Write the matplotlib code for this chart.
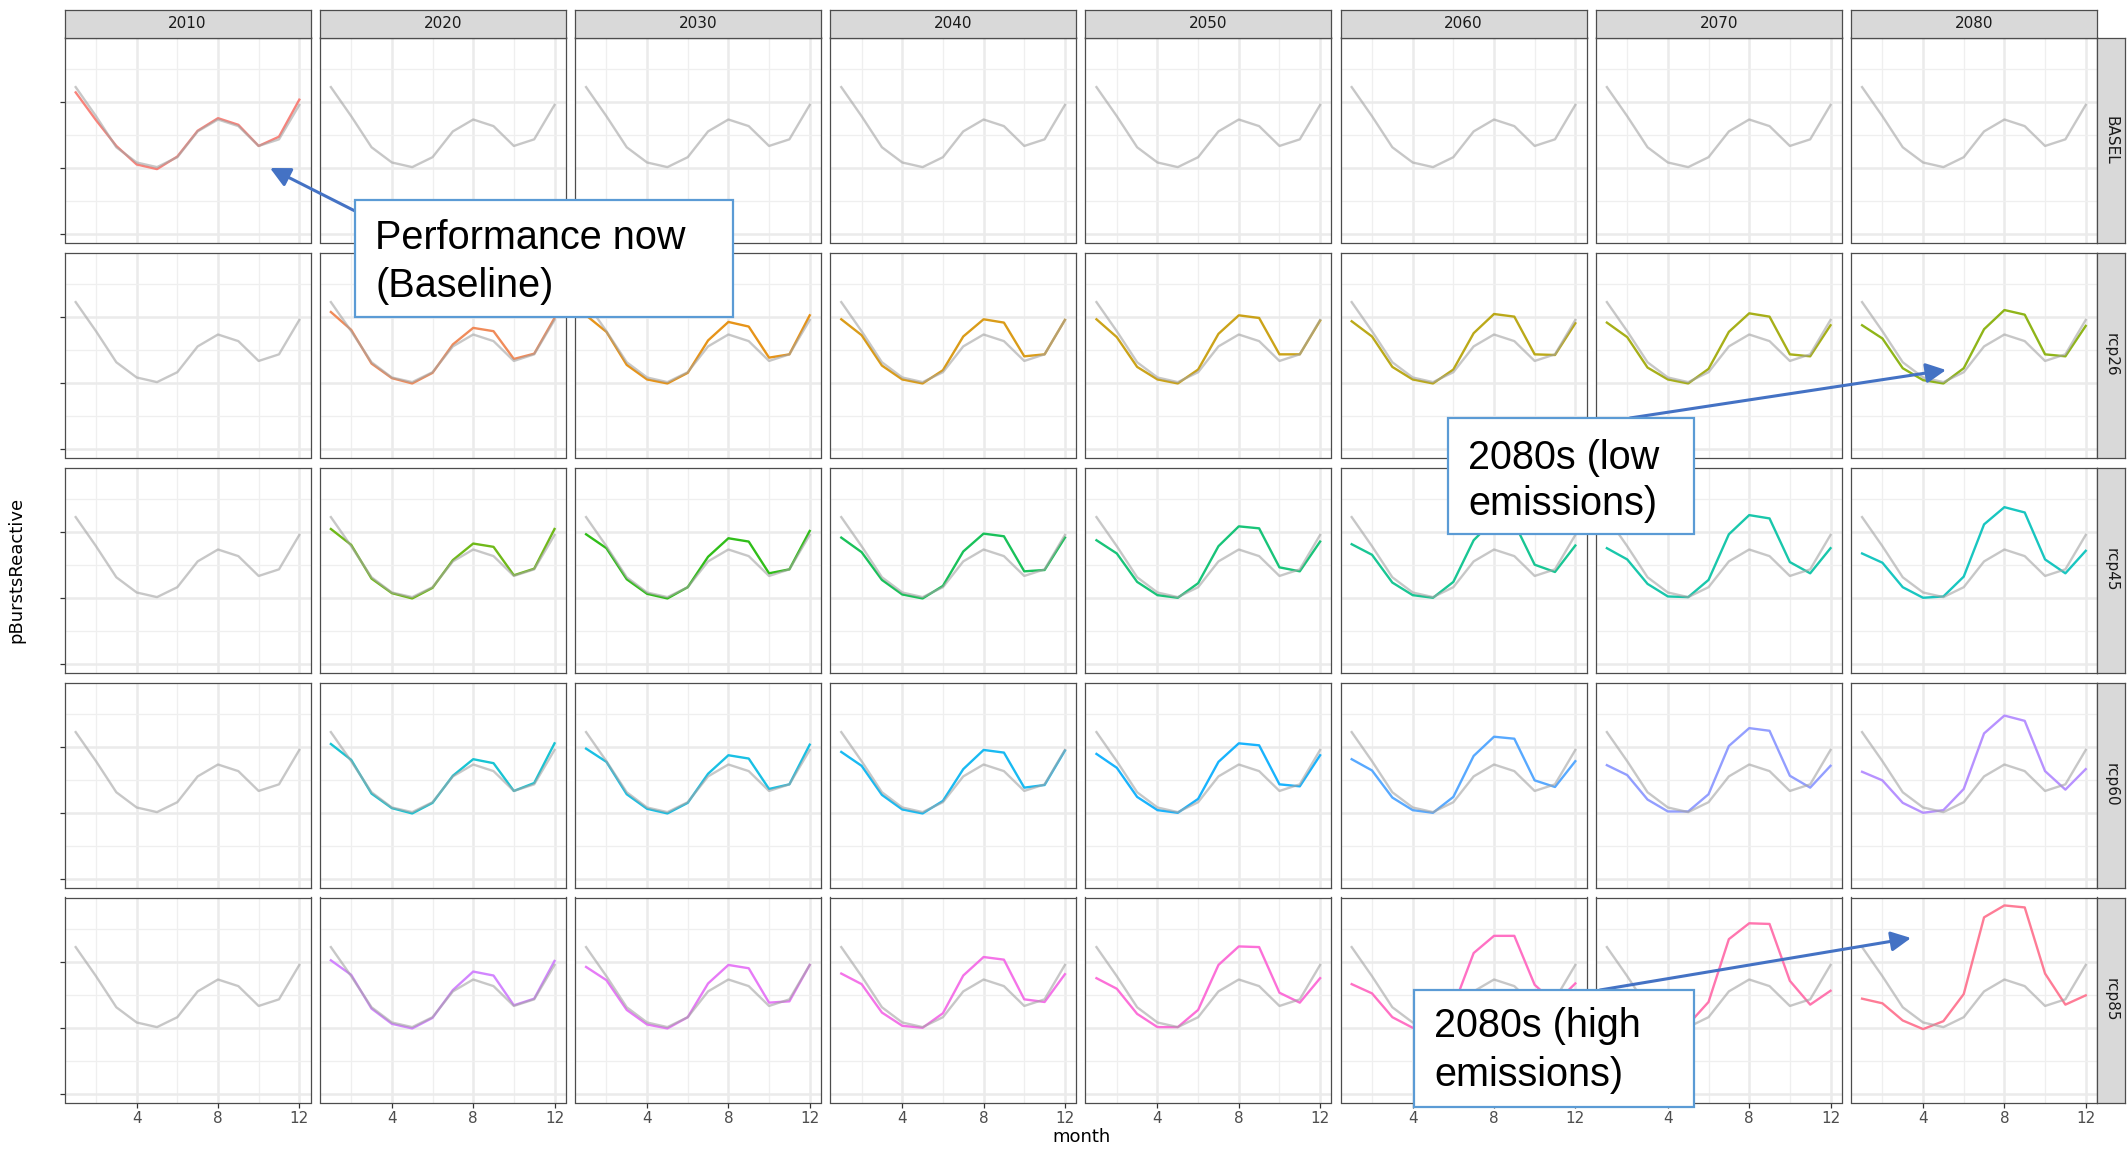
import numpy as np
import matplotlib.pyplot as plt
from matplotlib.patches import Rectangle, FancyArrowPatch

# facet labels
decades = ['2010', '2020', '2030', '2040', '2050', '2060', '2070', '2080']
scenarios = ['BASEL', 'rcp26', 'rcp45', 'rcp60', 'rcp85']
months = np.arange(1, 13)

# grey reference line (same in every panel)
baseline = [2.22, 1.78, 1.31, 1.08, 1.01, 1.16, 1.55, 1.73, 1.63, 1.33, 1.43, 1.95]

basel_2010 = [2.14, 1.72, 1.33, 1.05, 0.98, 1.17, 1.56, 1.75, 1.65, 1.33, 1.47, 2.03]

# one list per decade 2020 ... 2080
rcp26 = [
    [2.07, 1.80, 1.29, 1.07, 0.99, 1.15, 1.58, 1.83, 1.78, 1.36, 1.44, 1.98],
    [2.02, 1.77, 1.27, 1.05, 0.99, 1.15, 1.64, 1.92, 1.85, 1.38, 1.43, 2.02],
    [1.96, 1.72, 1.26, 1.05, 0.99, 1.19, 1.70, 1.96, 1.91, 1.40, 1.43, 1.95],
    [1.96, 1.69, 1.24, 1.05, 0.99, 1.20, 1.74, 2.02, 1.98, 1.43, 1.43, 1.94],
    [1.93, 1.70, 1.24, 1.05, 0.99, 1.20, 1.75, 2.04, 2.00, 1.43, 1.42, 1.90],
    [1.91, 1.69, 1.23, 1.05, 0.99, 1.21, 1.77, 2.05, 2.00, 1.43, 1.40, 1.87],
    [1.87, 1.67, 1.22, 1.04, 0.99, 1.22, 1.81, 2.10, 2.03, 1.43, 1.40, 1.86],
]
rcp45 = [
    [2.04, 1.80, 1.29, 1.07, 0.99, 1.15, 1.57, 1.82, 1.77, 1.34, 1.44, 2.04],
    [1.96, 1.75, 1.28, 1.06, 0.99, 1.16, 1.62, 1.90, 1.85, 1.37, 1.43, 2.01],
    [1.91, 1.69, 1.27, 1.05, 0.99, 1.18, 1.70, 1.97, 1.93, 1.40, 1.42, 1.91],
    [1.87, 1.67, 1.24, 1.04, 1.00, 1.22, 1.78, 2.08, 2.05, 1.46, 1.40, 1.85],
    [1.81, 1.65, 1.23, 1.04, 1.00, 1.24, 1.87, 2.18, 2.13, 1.50, 1.39, 1.79],
    [1.75, 1.58, 1.21, 1.02, 1.01, 1.27, 1.96, 2.25, 2.20, 1.54, 1.37, 1.75],
    [1.67, 1.53, 1.16, 1.00, 1.02, 1.32, 2.11, 2.37, 2.29, 1.58, 1.37, 1.71],
]
rcp60 = [
    [2.04, 1.80, 1.29, 1.07, 0.99, 1.15, 1.56, 1.81, 1.75, 1.33, 1.45, 2.05],
    [1.97, 1.77, 1.28, 1.06, 0.99, 1.15, 1.59, 1.87, 1.82, 1.36, 1.43, 2.03],
    [1.92, 1.71, 1.27, 1.05, 0.99, 1.18, 1.66, 1.95, 1.91, 1.38, 1.42, 1.94],
    [1.89, 1.68, 1.24, 1.04, 1.00, 1.21, 1.77, 2.05, 2.02, 1.43, 1.40, 1.87],
    [1.81, 1.64, 1.23, 1.04, 1.00, 1.24, 1.86, 2.15, 2.12, 1.49, 1.39, 1.78],
    [1.72, 1.57, 1.20, 1.02, 1.02, 1.28, 2.01, 2.28, 2.24, 1.56, 1.38, 1.71],
    [1.62, 1.49, 1.15, 1.00, 1.04, 1.36, 2.20, 2.47, 2.39, 1.63, 1.35, 1.66],
]
rcp85 = [
    [2.02, 1.80, 1.29, 1.06, 0.99, 1.15, 1.57, 1.85, 1.79, 1.34, 1.44, 2.01],
    [1.92, 1.72, 1.27, 1.05, 0.99, 1.16, 1.67, 1.95, 1.90, 1.38, 1.40, 1.95],
    [1.82, 1.66, 1.23, 1.03, 1.00, 1.22, 1.79, 2.07, 2.03, 1.43, 1.39, 1.81],
    [1.75, 1.59, 1.21, 1.01, 1.01, 1.27, 1.95, 2.23, 2.22, 1.53, 1.38, 1.75],
    [1.66, 1.52, 1.16, 1.00, 1.01, 1.32, 2.13, 2.39, 2.39, 1.65, 1.37, 1.67],
    [1.58, 1.47, 1.14, 1.00, 1.05, 1.39, 2.34, 2.58, 2.57, 1.71, 1.35, 1.56],
    [1.44, 1.37, 1.11, 0.98, 1.10, 1.51, 2.67, 2.85, 2.82, 1.82, 1.35, 1.49],
]


def hue_pal(n, c=100.0, l=65.0):
    # ggplot2 default discrete colours (hcl wheel starting at 15 deg)
    xn, yn, zn = 95.047, 100.0, 108.883
    un = 4 * xn / (xn + 15 * yn + 3 * zn)
    vn = 9 * yn / (xn + 15 * yn + 3 * zn)
    cols = []
    for i in range(n):
        h = np.deg2rad(15 + 360.0 * i / n)
        u, v = c * np.cos(h), c * np.sin(h)
        Y = yn * ((l + 16) / 116) ** 3
        up, vp = u / (13 * l) + un, v / (13 * l) + vn
        X = Y * 9 * up / (4 * vp)
        Z = Y * (12 - 3 * up - 20 * vp) / (4 * vp)
        X, Y, Z = X / 100, Y / 100, Z / 100
        lin = [3.2404542 * X - 1.5371385 * Y - 0.4985314 * Z,
               -0.9692660 * X + 1.8760108 * Y + 0.0415560 * Z,
               0.0556434 * X - 0.2040259 * Y + 1.0572252 * Z]
        rgb = []
        for ch in lin:
            ch = 12.92 * ch if ch <= 0.0031308 else 1.055 * ch ** (1 / 2.4) - 0.055
            rgb.append(min(max(ch, 0), 1))
        cols.append(tuple(rgb))
    return cols


colours = hue_pal(29)

# which coloured line goes in which panel
panels = {(0, 0): (basel_2010, 0)}
for r, sc in enumerate([rcp26, rcp45, rcp60, rcp85], start=1):
    for c in range(1, 8):
        panels[(r, c)] = (sc[c - 1], 1 + (r - 1) * 7 + (c - 1))

W, H = 2127, 1149
fig = plt.figure(figsize=(W / 100, H / 100), dpi=100)


def box(x0, y0, x1, y1):
    return [x0 / W, 1 - y1 / H, (x1 - x0) / W, (y1 - y0) / H]


def fp(x, y):
    return (x / W, 1 - y / H)


left0, pw, pitch_x = 64.5, 246, 255.2
top0, ph, pitch_y = 37.5, 205, 215
border = '#4D4D4D'

for r in range(5):
    for c in range(8):
        x0 = left0 + c * pitch_x
        y0 = top0 + r * pitch_y
        ax = fig.add_axes(box(x0, y0, x0 + pw, y0 + ph))
        ax.set_xlim(0.45, 12.55)
        ax.set_ylim(-0.13, 2.97)
        ax.set_xticks([4, 8, 12])
        ax.set_xticks([2, 6, 10], minor=True)
        ax.set_yticks([0, 1, 2])
        ax.set_yticks([0.5, 1.5, 2.5], minor=True)
        ax.grid(which='major', color='#EBEBEB', lw=1.8)
        ax.grid(which='minor', color='#EFEFEF', lw=0.9)
        ax.set_axisbelow(True)
        for s in ax.spines.values():
            s.set_color(border)
            s.set_linewidth(0.9)
        ax.tick_params(which='minor', length=0)
        ax.tick_params(which='major', length=0, labelleft=False, labelbottom=False)
        ax.set_yticklabels([])
        if c == 0:
            ax.tick_params(axis='y', which='major', length=3.3, width=0.9, color='#333333')
        if r == 4:
            ax.tick_params(axis='x', which='major', length=3.3, width=0.9, color='#333333',
                           labelbottom=True, labelsize=11, labelcolor='#4D4D4D', pad=3)
        if (r, c) in panels:
            vals, ci = panels[(r, c)]
            ax.plot(months, vals, color=colours[ci], lw=1.7, alpha=0.9, zorder=2)
        ax.plot(months, baseline, color='#A3A3A3', alpha=0.6, lw=1.7, zorder=3)

        if r == 0:
            sx = fig.add_axes(box(x0, 9.5, x0 + pw, top0))
            sx.set_facecolor('#D9D9D9')
            sx.set_xticks([])
            sx.set_yticks([])
            for s in sx.spines.values():
                s.set_color(border)
                s.set_linewidth(0.9)
            sx.text(0.5, 0.5, decades[c], ha='center', va='center', fontsize=11,
                    color='#1A1A1A', transform=sx.transAxes)
        if c == 7:
            sy = fig.add_axes(box(x0 + pw, y0, x0 + pw + 28, y0 + ph))
            sy.set_facecolor('#D9D9D9')
            sy.set_xticks([])
            sy.set_yticks([])
            for s in sy.spines.values():
                s.set_color(border)
                s.set_linewidth(0.9)
            sy.text(0.5, 0.5, scenarios[r], ha='center', va='center', fontsize=11,
                    color='#1A1A1A', rotation=-90, transform=sy.transAxes)

fig.text(*fp(16, 570), 'pBurstsReactive', rotation=90, ha='center', va='center', fontsize=13)
fig.text(*fp(1081, 1137), 'month', ha='center', va='center', fontsize=13)

# call-out boxes and arrows
arrow_kw = dict(transform=fig.transFigure, arrowstyle='-|>,head_length=0.6,head_width=0.3',
                mutation_scale=20, lw=2.2, color='#4472C4', shrinkA=0, shrinkB=0, zorder=9)
fig.add_artist(FancyArrowPatch(fp(355, 211), fp(270, 168), **arrow_kw))
fig.add_artist(FancyArrowPatch(fp(1630, 418), fp(1946, 370), **arrow_kw))
fig.add_artist(FancyArrowPatch(fp(1600, 990), fp(1911, 938), **arrow_kw))

callouts = [
    ((355, 200, 733, 317), 375, ['Performance now', '(Baseline)'], [249, 297]),
    ((1448, 418, 1694, 534), 1468, ['2080s (low', 'emissions)'], [469, 515]),
    ((1414, 990, 1694, 1107), 1434, ['2080s (high', 'emissions)'], [1037, 1086]),
]
for (bx0, by0, bx1, by1), tx, lines, bases in callouts:
    fx, fy = fp(bx0, by1)
    fig.add_artist(Rectangle((fx, fy), (bx1 - bx0) / W, (by1 - by0) / H,
                             transform=fig.transFigure, facecolor='white',
                             edgecolor='#5B9BD5', lw=1.6, zorder=10))
    for txt, b in zip(lines, bases):
        fig.text(*fp(tx, b), txt, fontsize=28.5, family='Liberation Sans',
                 va='baseline', ha='left', color='black', zorder=11)

fig.savefig('out.png', dpi=100)
